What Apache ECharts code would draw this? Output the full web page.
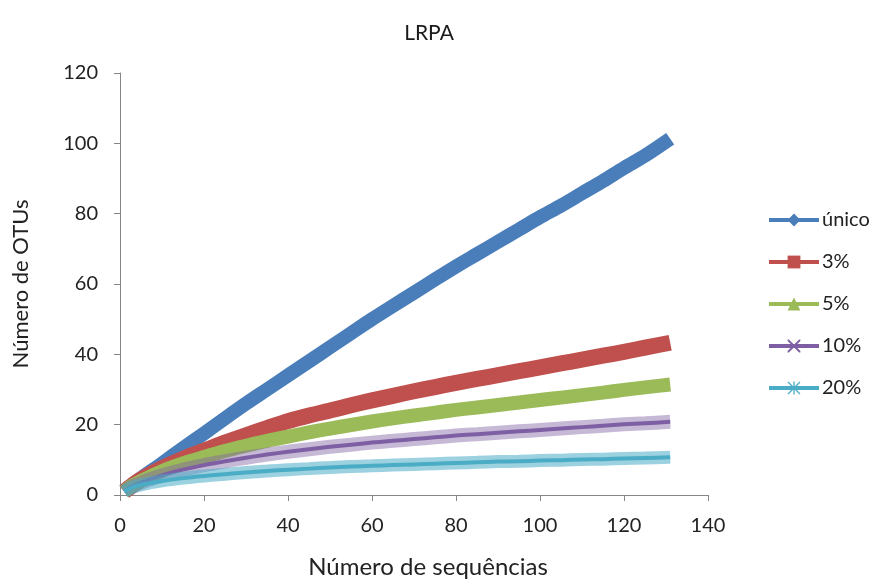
<!DOCTYPE html>
<html>
<head>
<meta charset="utf-8">
<script src="https://cdn.jsdelivr.net/npm/echarts@6/dist/echarts.min.js"></script>
<style>
  html, body { margin: 0; padding: 0; background: #fff; }
  #chart { width: 874px; height: 584px; }
</style>
</head>
<body>
<div id="chart"></div>
<script>
// número de sequências amostradas
const seqs = [1, 3, 5, 10, 15, 20, 25, 30, 35, 40, 45, 50, 55, 60, 65, 70, 75, 80, 85, 90, 95, 100, 105, 110, 115, 120, 125, 131];
const unico = [1, 3, 4.8, 9, 13.3, 17.5, 21.8, 26, 30, 34, 38, 42, 46, 50, 53.8, 57.5, 61.3, 65, 68.5, 72, 75.5, 79, 82.3, 85.8, 89.3, 93, 96.5, 101.3];
const p3 = [1, 2.8, 4.4, 7.6, 10.3, 12.6, 14.9, 17, 19, 21, 22.6, 24, 25.5, 26.9, 28.2, 29.5, 30.7, 31.9, 33, 34.1, 35.2, 36.3, 37.4, 38.5, 39.6, 40.7, 41.9, 43.3];
const p5 = [1, 2.7, 4, 6.8, 9, 10.8, 12.5, 14, 15.4, 16.6, 17.8, 18.9, 19.9, 20.9, 21.8, 22.6, 23.4, 24.2, 24.9, 25.6, 26.3, 27, 27.7, 28.4, 29.1, 29.9, 30.6, 31.4];
const p10 = [1, 2.5, 3.5, 5.6, 7.2, 8.5, 9.6, 10.6, 11.5, 12.3, 13, 13.7, 14.3, 14.9, 15.4, 15.9, 16.4, 16.9, 17.3, 17.7, 18.1, 18.5, 18.9, 19.3, 19.7, 20.1, 20.4, 20.8];
const p20 = [1, 2.2, 2.9, 4, 4.8, 5.4, 5.9, 6.4, 6.8, 7.2, 7.5, 7.8, 8.1, 8.3, 8.5, 8.7, 8.9, 9.1, 9.3, 9.5, 9.6, 9.8, 9.9, 10.1, 10.2, 10.4, 10.5, 10.7];
const seriesNames = ['único', '3%', '5%', '10%', '20%'];

const FONT = 'Lato';
const crossPath = 'path://M0,0 L1,0 L10,9 L10,10 L9,10 L0,1 Z M9,0 L10,0 L10,1 L1,10 L0,10 L0,9 Z';
const starPath = 'path://M4.5,0 L5.5,0 L5.5,10 L4.5,10 Z M0,4.5 L10,4.5 L10,5.5 L0,5.5 Z M0.7,0 L10,9.3 L9.3,10 L0,0.7 Z M9.3,0 L10,0.7 L0.7,10 L0,9.3 Z';

function pts(ys) {
  return seqs.map((x, i) => [x, ys[i]]);
}

const chart = echarts.init(document.getElementById('chart'));

function mainSeries(name, ys, color, width, symbol) {
  return {
    name: name,
    type: 'line',
    data: pts(ys),
    smooth: 0.3,
    symbol: symbol,
    showSymbol: false,
    lineStyle: { color: color, width: width, cap: 'butt', join: 'round' },
    itemStyle: { color: color },
    emphasis: { disabled: true },
    animation: false
  };
}

// faixa larga e clara por baixo das séries com marcadores vazados
function bandSeries(ys, color, width) {
  return {
    name: 'faixa',
    type: 'line',
    data: pts(ys),
    smooth: 0.3,
    symbol: 'none',
    lineStyle: { color: color, width: width, cap: 'butt' },
    emphasis: { disabled: true },
    animation: false,
    silent: true
  };
}

const option = {
  backgroundColor: '#fff',
  title: {
    text: 'LRPA',
    left: 424,
    top: 18,
    textAlign: 'center',
    textStyle: { fontFamily: FONT, fontSize: 21, fontWeight: 'normal', color: '#1a1a1a' }
  },
  legend: {
    data: seriesNames,
    orient: 'vertical',
    left: 762,
    top: 204,
    itemWidth: 50,
    itemHeight: 16,
    itemGap: 20,
    lineStyle: { width: 4 },
    textStyle: { fontFamily: FONT, fontSize: 20, lineHeight: 22, color: '#222', padding: [0, 0, 0, -2] }
  },
  grid: { left: 120, right: 166, top: 73, bottom: 84 },
  xAxis: {
    type: 'value',
    min: 0,
    max: 140,
    interval: 20,
    name: 'Número de sequências',
    nameLocation: 'middle',
    nameGap: 60,
    nameTextStyle: { fontFamily: FONT, fontSize: 24, color: '#222', padding: [0, 0, 0, 28] },
    axisLine: { lineStyle: { color: '#868686', width: 1 } },
    axisTick: { show: true, length: 6, lineStyle: { color: '#868686' } },
    axisLabel: { fontFamily: FONT, fontSize: 20, color: '#222', margin: 21 },
    splitLine: { show: false }
  },
  yAxis: {
    type: 'value',
    min: 0,
    max: 120,
    interval: 20,
    name: 'Número de OTUs',
    nameLocation: 'middle',
    nameGap: 88,
    nameTextStyle: { fontFamily: FONT, fontSize: 22, color: '#222' },
    axisLine: { show: true, lineStyle: { color: '#868686', width: 1 } },
    axisTick: { show: true, length: 6, lineStyle: { color: '#868686' } },
    axisLabel: { fontFamily: FONT, fontSize: 20, color: '#222', margin: 22 },
    splitLine: { show: false }
  },
  series: [
    mainSeries('único', unico, '#4A7EBB', 14, 'diamond'),
    mainSeries('3%', p3, '#C0504D', 16, 'rect'),
    mainSeries('5%', p5, '#9BBB59', 14, 'triangle'),
    bandSeries(p10, 'rgba(128,100,162,0.45)', 14),
    mainSeries('10%', p10, '#7E5FA3', 4, crossPath),
    bandSeries(p20, 'rgba(75,172,198,0.55)', 13),
    mainSeries('20%', p20, '#4BACC6', 4, starPath)
  ]
};

chart.setOption(option);
</script>
</body>
</html>
